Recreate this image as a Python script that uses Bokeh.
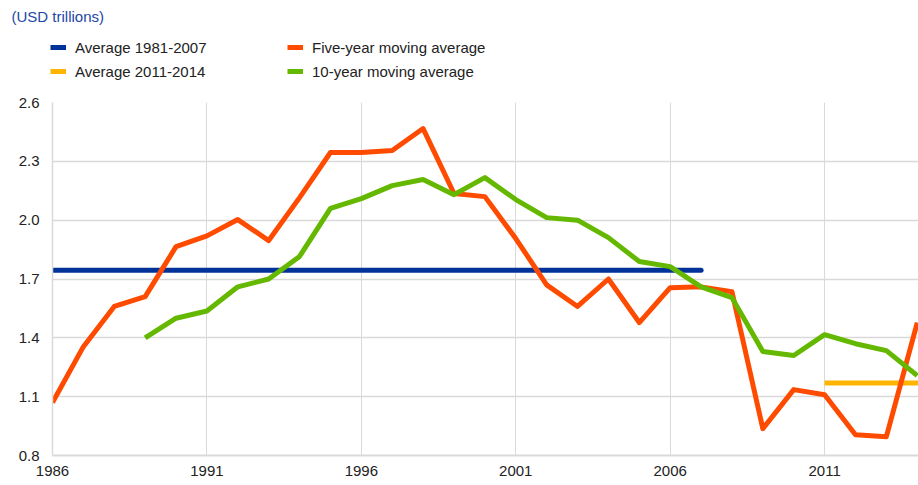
from bokeh.plotting import figure
from bokeh.models import (Range1d, FixedTicker, PrintfTickFormatter, Legend,
                          LegendItem, Label)
from bokeh.embed import file_html
from bokeh.resources import INLINE

# ---- data ----
years5 = list(range(1986, 2015))
five_year = [1.07, 1.355, 1.56, 1.61, 1.865, 1.92, 2.003, 1.896, 2.115, 2.345,
             2.345, 2.355, 2.467, 2.136, 2.12, 1.906, 1.67, 1.56, 1.70, 1.478,
             1.656, 1.66, 1.635, 0.937, 1.136, 1.11, 0.906, 0.896, 1.478]
years10 = list(range(1989, 2015))
ten_year = [1.40, 1.50, 1.537, 1.66, 1.70, 1.815, 2.06, 2.11, 2.176, 2.207,
            2.13, 2.217, 2.105, 2.013, 2.0, 1.911, 1.789, 1.763, 1.66, 1.605,
            1.33, 1.31, 1.416, 1.37, 1.335, 1.207]
avg_1981_2007_x = [1986, 2007]
avg_1981_2007 = [1.745, 1.745]
avg_2011_2014_x = [2011, 2014.04]
avg_2011_2014 = [1.17, 1.17]
x_ticks = [1986, 1991, 1996, 2001, 2006, 2011]
y_ticks = [0.8, 1.1, 1.4, 1.7, 2.0, 2.3, 2.6]
unit_label = "(USD trillions)"
series_names = ["Average 1981-2007", "Average 2011-2014",
                "Five-year moving average", "10-year moving average"]

BLUE = "#003299"
YELLOW = "#ffb400"
ORANGE = "#ff4b00"
GREEN = "#65b800"
COLORS = [BLUE, YELLOW, ORANGE, GREEN]
FONT = "Liberation Sans"
TOP_H = 94

# ---------------- header figure (unit label + legend) ----------------
head = figure(width=918, height=TOP_H, output_backend="svg", toolbar_location=None,
              x_range=Range1d(0, 918), y_range=Range1d(0, TOP_H),
              x_axis_type=None, y_axis_type=None,
              min_border_left=0, min_border_right=0, min_border_top=0,
              min_border_bottom=0)
head.outline_line_color = None
head.xgrid.visible = False
head.ygrid.visible = False

# off-screen swatch sources for the legend
dummies = [head.line([-200, -190], [-200, -200], line_color=c, line_width=5)
           for c in COLORS]


def make_legend(items, x, y):
    return Legend(items=items, location=(x, y), orientation="vertical",
                  glyph_width=16, glyph_height=20, label_height=20,
                  label_standoff=9, spacing=4, padding=0, margin=0,
                  border_line_alpha=0, background_fill_alpha=0,
                  label_text_font=FONT, label_text_font_size="15px",
                  label_text_color="#222222")


leg1 = make_legend([LegendItem(label=series_names[0], renderers=[dummies[0]]),
                    LegendItem(label=series_names[1], renderers=[dummies[1]])],
                   50, 13)
leg2 = make_legend([LegendItem(label=series_names[2], renderers=[dummies[2]]),
                    LegendItem(label=series_names[3], renderers=[dummies[3]])],
                   287, 13)
head.add_layout(leg1, "center")
head.add_layout(leg2, "center")
head.add_layout(Label(x=11, y=TOP_H - 16, text=unit_label, text_font=FONT,
                      text_font_size="15px", text_color="#2347a8",
                      text_baseline="middle", text_align="left"))

# ---------------- main chart ----------------
p = figure(width=918, height=485 - TOP_H, output_backend="svg",
           toolbar_location=None,
           x_range=Range1d(1986, 2014.04), y_range=Range1d(0.8, 2.6),
           min_border_left=52, min_border_right=0, min_border_top=102 - TOP_H,
           min_border_bottom=30)
p.outline_line_color = None

p.line(avg_1981_2007_x, avg_1981_2007, line_color=BLUE, line_width=5,
       line_cap="round")
p.line(avg_2011_2014_x, avg_2011_2014, line_color=YELLOW, line_width=5)
p.line(years5, five_year, line_color=ORANGE, line_width=5, line_join="round")
p.line(years10, ten_year, line_color=GREEN, line_width=5, line_join="round")

p.xaxis.ticker = FixedTicker(ticks=x_ticks)
p.yaxis.ticker = FixedTicker(ticks=y_ticks)
p.xaxis.formatter = PrintfTickFormatter(format="%d")
p.yaxis.formatter = PrintfTickFormatter(format="%.1f")
for ax in (p.xaxis, p.yaxis):
    ax.major_tick_out = 0
    ax.major_tick_in = 0
    ax.minor_tick_out = 0
    ax.minor_tick_in = 0
    ax.axis_line_color = "#d9d9d9"
    ax.major_label_text_font = FONT
    ax.major_label_text_font_size = "15px"
    ax.major_label_text_color = "#222222"
p.xaxis.axis_line_width = 2
p.yaxis.axis_line_width = 1.5
p.xaxis.major_label_standoff = 10
p.yaxis.major_label_standoff = 13

p.xgrid.grid_line_color = "#d9d9d9"
p.ygrid.grid_line_color = "#d9d9d9"
p.xgrid.grid_line_width = 1
p.ygrid.grid_line_width = 1.5

open("out.html", "w").write(file_html([head, p], INLINE))
